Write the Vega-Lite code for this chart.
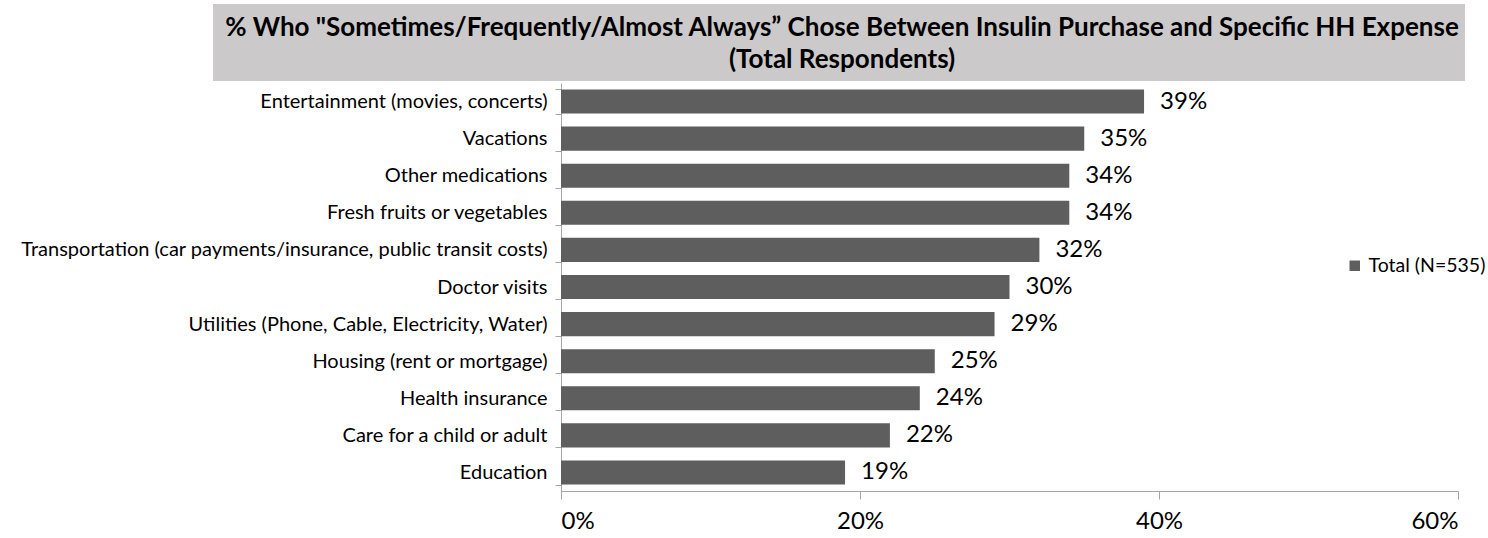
{
  "$schema": "https://vega.github.io/schema/vega-lite/v6.json",
  "padding": {"left": 20, "top": 4, "right": 0, "bottom": 0},
  "spacing": 2,
  "bounds": "flush",
  "config": {"view": {"stroke": null}, "font": "Lato"},
  "datasets": {
    "rows": [
      {"category": "Entertainment (movies, concerts)", "value": 0.39, "series": "Total (N=535)"},
      {"category": "Vacations", "value": 0.35, "series": "Total (N=535)"},
      {"category": "Other medications", "value": 0.34, "series": "Total (N=535)"},
      {"category": "Fresh fruits or vegetables", "value": 0.34, "series": "Total (N=535)"},
      {"category": "Transportation (car payments/insurance, public transit costs)", "value": 0.32, "series": "Total (N=535)"},
      {"category": "Doctor visits", "value": 0.30, "series": "Total (N=535)"},
      {"category": "Utilities (Phone, Cable, Electricity, Water)", "value": 0.29, "series": "Total (N=535)"},
      {"category": "Housing (rent or mortgage)", "value": 0.25, "series": "Total (N=535)"},
      {"category": "Health insurance", "value": 0.24, "series": "Total (N=535)"},
      {"category": "Care for a child or adult", "value": 0.22, "series": "Total (N=535)"},
      {"category": "Education", "value": 0.19, "series": "Total (N=535)"}
    ]
  },
  "resolve": {"scale": {"x": "independent"}},
  "vconcat": [
    {
      "width": 897,
      "height": 77,
      "data": {"values": [{}]},
      "layer": [
        {
          "mark": {"type": "rect", "color": "#cbc9ca", "clip": false},
          "encoding": {
            "x": {"datum": -0.2328, "type": "quantitative", "scale": {"domain": [0, 0.6], "nice": false}, "axis": null},
            "x2": {"datum": 0.6047}
          }
        },
        {
          "mark": {
            "type": "text",
            "text": ["% Who \"Sometimes/Frequently/Almost Always\u201d Chose Between Insulin Purchase and Specific HH Expense", "(Total Respondents)"],
            "fontSize": 26,
            "fontWeight": "bold",
            "lineHeight": 32,
            "align": "center",
            "baseline": "middle",
            "dy": -15,
            "color": "#000000"
          },
          "encoding": {
            "x": {"datum": 0.188, "type": "quantitative", "axis": null}
          }
        }
      ]
    },
    {
      "width": 897,
      "height": 408,
      "data": {"name": "rows"},
      "encoding": {
        "y": {
          "field": "category",
          "type": "nominal",
          "sort": null,
          "scale": {"paddingInner": 0.35, "paddingOuter": 0.175},
          "axis": {
            "title": null,
            "labelFontSize": 20,
            "labelColor": "#000000",
            "labelLimit": 700,
            "labelPadding": 8,
            "tickBand": "extent",
            "tickSize": 6,
            "tickColor": "#a6a6a6",
            "domainColor": "#a6a6a6"
          }
        },
        "x": {
          "field": "value",
          "type": "quantitative",
          "scale": {"domain": [0, 0.6], "nice": false},
          "axis": {
            "title": null,
            "format": ".0%",
            "values": [0, 0.2, 0.4, 0.6],
            "grid": false,
            "labelFontSize": 24,
            "labelColor": "#000000",
            "labelPadding": 10,
            "tickSize": 8,
            "tickColor": "#a6a6a6",
            "domainColor": "#a6a6a6"
          }
        }
      },
      "layer": [
        {
          "mark": {"type": "bar"},
          "encoding": {
            "color": {
              "field": "series",
              "type": "nominal",
              "scale": {"range": ["#5e5e5e"]},
              "legend": {
                "title": null,
                "orient": "none",
                "legendX": 784,
                "legendY": 252,
                "labelFontSize": 19.5,
                "labelColor": "#000000",
                "symbolType": "square",
                "symbolSize": 110,
                "symbolStrokeWidth": 0
              }
            }
          }
        },
        {
          "mark": {"type": "text", "align": "left", "baseline": "middle", "dx": 16, "fontSize": 24, "color": "#000000"},
          "encoding": {
            "text": {"field": "value", "type": "quantitative", "format": ".0%"}
          }
        }
      ]
    }
  ]
}
